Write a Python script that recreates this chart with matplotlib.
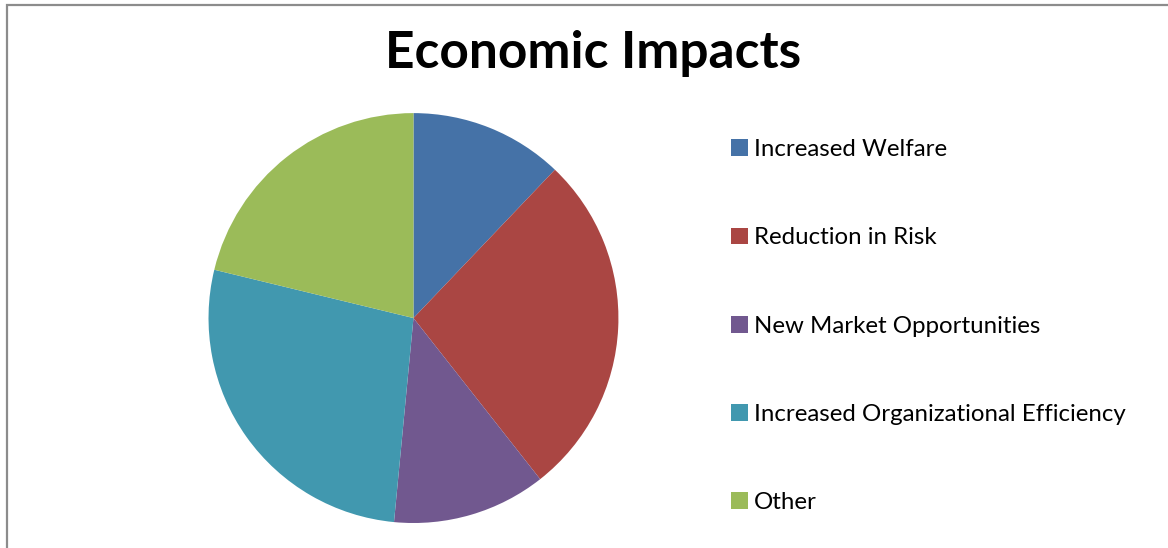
import matplotlib
matplotlib.use("Agg")
import matplotlib.pyplot as plt
from matplotlib.patches import Rectangle

plt.rcParams['font.family'] = ['Lato', 'DejaVu Sans']

# Share of each economic impact
categories = ['Increased Welfare', 'Reduction in Risk', 'New Market Opportunities',
              'Increased Organizational Efficiency', 'Other']
values = [4, 9, 4, 9, 7]
colors = ['#4572A7', '#AA4643', '#71588F', '#4198AF', '#9BBB59']

fig = plt.figure(figsize=(11.68, 5.48), dpi=100)

# grey chart-area border (runs off the right and bottom edges)
fig.patches.append(Rectangle((7 / 1168, -0.2), 1.2, 1.2 - 5 / 548,
                             transform=fig.transFigure, fill=False,
                             edgecolor='#8c8c8c', linewidth=1.6))

ax = fig.add_axes([0.1785, 0.0456, 0.351, 0.748])
wedges, _ = ax.pie(values, colors=colors, startangle=90, counterclock=False,
                   radius=1.0, wedgeprops=dict(linewidth=0))
ax.set_xlim(-1, 1)
ax.set_ylim(-1, 1)
ax.axis('off')

fig.text(0.508, 0.903, 'Economic Impacts', ha='center', va='center',
         fontsize=37, fontweight='bold')

leg = fig.legend(wedges, categories, loc='upper left',
                 bbox_to_anchor=(0.6155, 0.768), frameon=False,
                 fontsize=17.3, handlelength=0.7, handleheight=0.7,
                 handletextpad=0.25, labelspacing=2.80, borderpad=0)

fig.savefig('out.png', dpi=100)
